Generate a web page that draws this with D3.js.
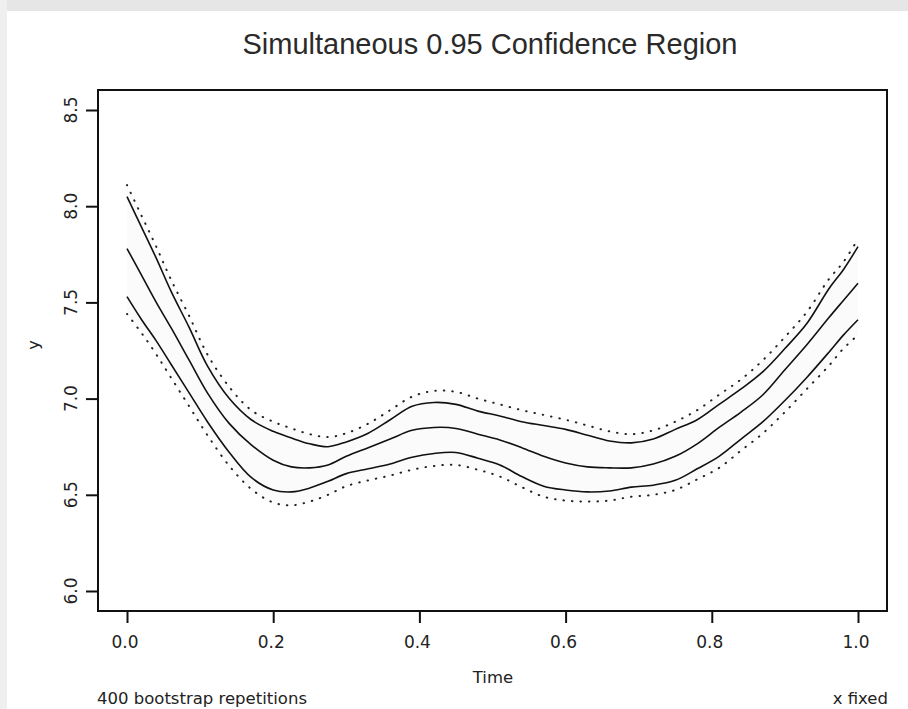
<!DOCTYPE html>
<html>
<head>
<meta charset="utf-8">
<script src="https://cdn.jsdelivr.net/npm/d3@7"></script>
<style>
  html, body { margin: 0; padding: 0; background: #ffffff; }
  svg { display: block; }
</style>
</head>
<body>
<svg id="chart" width="908" height="709"></svg>
<script>
// ---- data ----
const timeGrid = [0, 0.02, 0.04, 0.06, 0.085, 0.11, 0.14, 0.17, 0.20, 0.225, 0.25, 0.275, 0.30, 0.33, 0.36, 0.39, 0.42, 0.45, 0.48, 0.51, 0.54, 0.57, 0.60, 0.63, 0.66, 0.69, 0.72, 0.75, 0.78, 0.81, 0.84, 0.87, 0.90, 0.93, 0.96, 0.98, 1.0];
const fitMiddle = [7.78, 7.64, 7.50, 7.37, 7.20, 7.03, 6.87, 6.76, 6.68, 6.645, 6.64, 6.655, 6.70, 6.745, 6.79, 6.835, 6.85, 6.845, 6.815, 6.785, 6.745, 6.70, 6.665, 6.645, 6.64, 6.64, 6.66, 6.70, 6.765, 6.85, 6.93, 7.02, 7.15, 7.28, 7.42, 7.51, 7.60];
const bandUpper = [8.05, 7.89, 7.73, 7.56, 7.37, 7.17, 7.00, 6.89, 6.83, 6.795, 6.765, 6.75, 6.775, 6.82, 6.89, 6.96, 6.98, 6.97, 6.935, 6.91, 6.88, 6.86, 6.84, 6.81, 6.78, 6.77, 6.79, 6.84, 6.89, 6.97, 7.05, 7.14, 7.26, 7.39, 7.57, 7.67, 7.79];
const bandLower = [7.53, 7.41, 7.30, 7.18, 7.03, 6.88, 6.72, 6.59, 6.525, 6.515, 6.535, 6.57, 6.61, 6.635, 6.66, 6.695, 6.715, 6.72, 6.69, 6.655, 6.595, 6.545, 6.525, 6.515, 6.52, 6.54, 6.55, 6.575, 6.635, 6.70, 6.79, 6.88, 6.99, 7.11, 7.24, 7.33, 7.41];
const dotUpper = [8.11, 7.95, 7.79, 7.62, 7.43, 7.23, 7.06, 6.94, 6.88, 6.845, 6.815, 6.80, 6.82, 6.87, 6.94, 7.01, 7.04, 7.035, 7.00, 6.97, 6.94, 6.915, 6.89, 6.86, 6.83, 6.815, 6.835, 6.88, 6.94, 7.02, 7.10, 7.20, 7.32, 7.45, 7.62, 7.71, 7.83];
const dotLower = [7.44, 7.34, 7.23, 7.11, 6.96, 6.81, 6.65, 6.53, 6.46, 6.445, 6.465, 6.50, 6.545, 6.575, 6.60, 6.63, 6.65, 6.655, 6.63, 6.595, 6.54, 6.49, 6.47, 6.465, 6.47, 6.49, 6.50, 6.525, 6.58, 6.64, 6.73, 6.82, 6.93, 7.05, 7.17, 7.26, 7.33];
const xTicks = [0, 0.2, 0.4, 0.6, 0.8, 1.0];
const yTicks = [6.0, 6.5, 7.0, 7.5, 8.0, 8.5];
const titleText = "Simultaneous 0.95 Confidence Region";
const xLabel = "Time";
const yLabel = "y";
const footLeft = "400 bootstrap repetitions";
const footRight = "x fixed";

// ---- layout ----
const svg = d3.select("#chart");
const frame = { left: 98, right: 887, top: 90, bottom: 611 };
const x = d3.scaleLinear().domain([0, 1]).range([127, 858]);
const y = d3.scaleLinear().domain([6.0, 8.5]).range([591, 110]);
const smallFont = "'DejaVu Sans', sans-serif";

// page chrome: light grey strips at top and left
svg.append("rect").attr("x", 0).attr("y", 0).attr("width", 908).attr("height", 11).attr("fill", "#e6e6e6");
svg.append("rect").attr("x", 0).attr("y", 0).attr("width", 7).attr("height", 709).attr("fill", "#efefef");

// title
svg.append("text")
  .attr("x", 490).attr("y", 54)
  .attr("text-anchor", "middle")
  .attr("font-family", "'Liberation Sans', Arial, sans-serif")
  .attr("font-size", 29)
  .attr("fill", "#2a2a2a")
  .text(titleText);

// curves
const line = d3.line().curve(d3.curveCatmullRom.alpha(0.5));
function pts(vals) { return timeGrid.map((t, i) => [x(t), y(vals[i])]); }

const plot = svg.append("g");
// very faint haze between the outer dotted bounds (as in the reference)
const haze = d3.area().curve(d3.curveCatmullRom.alpha(0.5))
  .x((t) => x(t))
  .y0((t, i) => y(dotLower[i]))
  .y1((t, i) => y(dotUpper[i]));
plot.append("path").attr("d", haze(timeGrid)).attr("fill", "#fbfbfb");

[dotUpper, dotLower].forEach(vals => {
  plot.append("path")
    .attr("d", line(pts(vals)))
    .attr("fill", "none")
    .attr("stroke", "#222")
    .attr("stroke-width", 2)
    .attr("stroke-linecap", "round")
    .attr("stroke-dasharray", "0.5,8");
});
[bandUpper, fitMiddle, bandLower].forEach(vals => {
  plot.append("path")
    .attr("d", line(pts(vals)))
    .attr("fill", "none")
    .attr("stroke", "#111")
    .attr("stroke-width", 1.6);
});

// frame
svg.append("rect")
  .attr("x", frame.left).attr("y", frame.top)
  .attr("width", frame.right - frame.left).attr("height", frame.bottom - frame.top)
  .attr("fill", "none").attr("stroke", "#111").attr("stroke-width", 2);

// y axis
const yAxis = svg.append("g")
  .attr("transform", `translate(${frame.left},0)`)
  .call(d3.axisLeft(y).tickValues(yTicks).tickSize(12).tickFormat(() => ""));
yAxis.select(".domain").remove();
yAxis.selectAll(".tick line").attr("stroke", "#111").attr("stroke-width", 2);
yAxis.selectAll(".tick text").remove();
svg.append("g").selectAll("text").data(yTicks).join("text")
  .attr("transform", d => `translate(77,${y(d)}) rotate(-90)`)
  .attr("text-anchor", "middle")
  .attr("font-family", smallFont)
  .attr("font-size", 17)
  .attr("fill", "#222")
  .text(d => d3.format(".1f")(d));

// x axis
const xAxis = svg.append("g")
  .attr("transform", `translate(0,${frame.bottom})`)
  .call(d3.axisBottom(x).tickValues(xTicks).tickSize(12).tickFormat(() => ""));
xAxis.select(".domain").remove();
xAxis.selectAll(".tick line").attr("stroke", "#111").attr("stroke-width", 2);
xAxis.selectAll(".tick text").remove();
svg.append("g").selectAll("text").data(xTicks).join("text")
  .attr("x", d => x(d) - 2).attr("y", 648)
  .attr("text-anchor", "middle")
  .attr("font-family", smallFont)
  .attr("font-size", 17)
  .attr("fill", "#222")
  .text(d => d3.format(".1f")(d));

// axis labels
svg.append("text")
  .attr("x", 493).attr("y", 683)
  .attr("text-anchor", "middle")
  .attr("font-family", smallFont).attr("font-size", 16.5).attr("fill", "#222")
  .text(xLabel);
svg.append("text")
  .attr("transform", "translate(39,345) rotate(-90)")
  .attr("text-anchor", "middle")
  .attr("font-family", smallFont).attr("font-size", 16).attr("fill", "#222")
  .text(yLabel);

// footnotes
svg.append("text")
  .attr("x", 97).attr("y", 704)
  .attr("font-family", smallFont).attr("font-size", 16.5).attr("fill", "#222")
  .text(footLeft);
svg.append("text")
  .attr("x", 888).attr("y", 704)
  .attr("text-anchor", "end")
  .attr("font-family", smallFont).attr("font-size", 16.5).attr("fill", "#222")
  .text(footRight);
</script>
</body>
</html>
